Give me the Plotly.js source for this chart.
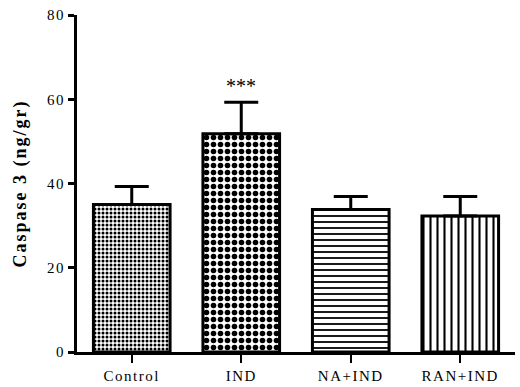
<!DOCTYPE html>
<html><head><meta charset="utf-8">
<script src="https://cdn.plot.ly/plotly-3.0.1.min.js"></script>
<style>body{margin:0;background:#fff}#c{width:520px;height:387px}
.xtick text,.ytick text{letter-spacing:1.5px}
.ytitle{letter-spacing:2px}</style>
</head><body><div id="c"></div>
<script>
const categories = ["Control", "IND", "NA+IND", "RAN+IND"];
const means = [35.0, 51.8, 33.8, 32.3];
const errors = [4.3, 7.5, 3.1, 4.6];
const significance = ["", "***", "", ""];
const yTicks = [0, 20, 40, 60, 80];

const shapes = [".", ".", "-", "|"];
const psizes = [4, 7, 6, 7];
const psol = [0.45, 0.5, 0.3, 0.3];

const traces = categories.map((c, i) => ({
  type: "bar", x: [c], y: [means[i]], width: 0.7,
  marker: {color: "#fff", line: {color: "#000", width: 3},
    pattern: {shape: shapes[i], fgcolor: "#000", bgcolor: "#fff", size: psizes[i], solidity: psol[i]}},
  error_y: {type: "data", array: [errors[i]], arrayminus: [0], symmetric: false, color: "#000", thickness: 3, width: 17},
  showlegend: false, hoverinfo: "skip"
}));

const annotations = categories.map((c, i) => significance[i] ? ({
  x: c, y: means[i] + errors[i], yshift: 16, text: significance[i], showarrow: false,
  font: {family: "Liberation Serif", size: 20, color: "#000"}
}) : null).filter(Boolean);

Plotly.newPlot("c", traces, {
  width: 520, height: 387,
  margin: {l: 77, r: 5, t: 15, b: 35},
  paper_bgcolor: "#fff", plot_bgcolor: "#fff",
  barmode: "overlay",
  xaxis: {type: "category", range: [-0.5, 3.5], showline: true, linecolor: "#000", linewidth: 3,
    ticks: "outside", ticklen: 8, tickwidth: 2, tickcolor: "#000",
    tickfont: {family: "Liberation Serif", size: 15, color: "#000"}, showgrid: false, zeroline: false},
  yaxis: {range: [0, 80], tickvals: yTicks, showline: true, linecolor: "#000", linewidth: 3,
    ticks: "outside", ticklen: 6, tickwidth: 3, tickcolor: "#000",
    tickfont: {family: "Liberation Serif", size: 15, color: "#000"}, showgrid: false, zeroline: false,
    title: {text: "<b>Caspase 3 (ng/gr)</b>", font: {family: "Liberation Serif", size: 18, color: "#000"}, standoff: 16}},
  annotations: annotations
}, {displayModeBar: false, staticPlot: true});
</script></body></html>
